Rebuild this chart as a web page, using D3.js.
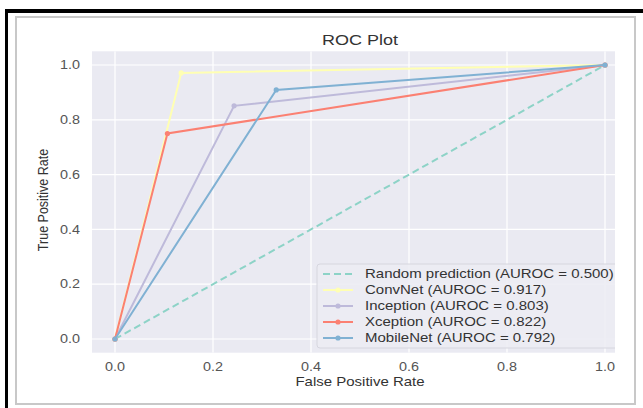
<!DOCTYPE html>
<html><head><meta charset="utf-8">
<script src="https://cdn.jsdelivr.net/npm/d3@7"></script>
<style>body{margin:0;background:#fff}svg{display:block}text{font-family:"Liberation Sans",Arial,sans-serif}</style>
</head><body>
<script>
const seriesNames = ["ConvNet","Inception","Xception","MobileNet"];
const aurocs = [0.917,0.803,0.822,0.792];
const fprValues = [[0,0.135,1],[0,0.243,1],[0,0.107,1],[0,0.329,1]];
const tprValues = [[0,0.971,1],[0,0.851,1],[0,0.75,1],[0,0.909,1]];
const randomFpr = [0,1];
const randomTpr = [0,1];
const randomAuroc = 0.5;
const tickValues = [0,0.2,0.4,0.6,0.8,1.0];
const colors = ["#8dd3c7","#ffffb3","#bebada","#fb8072","#80b1d3"];

(function(){
const W=643,H=408;
const svg=d3.select("body").append("svg").attr("width",W).attr("height",H);
// frame
svg.append("rect").attr("x",5).attr("y",9).attr("width",W-5).attr("height",4).attr("fill","#000");
svg.append("rect").attr("x",5).attr("y",9).attr("width",3).attr("height",H-9).attr("fill","#000");
svg.append("rect").attr("x",16).attr("y",17).attr("width",619).attr("height",387).attr("fill","#fff")
  .attr("stroke","#c8c8c8").attr("stroke-width",2);

const x=d3.scaleLinear().domain([0,1]).range([115,605]);
const y=d3.scaleLinear().domain([0,1]).range([339,65]);
const pL=x(-0.047), pR=615, pT=y(1.05), pB=y(-0.05);

svg.append("defs").append("clipPath").attr("id","pc").append("rect")
  .attr("x",pL).attr("y",pT).attr("width",pR-pL).attr("height",pB-pT);
svg.append("rect").attr("x",pL).attr("y",pT).attr("width",pR-pL).attr("height",pB-pT).attr("fill","#eaeaf2");
const g=svg.append("g").attr("clip-path","url(#pc)");
// grid
g.selectAll(".vg").data(tickValues).join("line").attr("x1",d=>x(d)).attr("x2",d=>x(d)).attr("y1",pT).attr("y2",pB)
 .attr("stroke","#fff").attr("stroke-width",1.2);
g.selectAll(".hg").data(tickValues).join("line").attr("y1",d=>y(d)).attr("y2",d=>y(d)).attr("x1",pL).attr("x2",pR)
 .attr("stroke","#fff").attr("stroke-width",1.2);

const sx=1.2;
function txt(px,py,str,opts){
  const t=svg.append("text").attr("transform",`translate(${px},${py}) scale(${sx},1)`+(opts.rot?" rotate(-90)":""))
   .attr("text-anchor",opts.anchor||"middle").attr("font-size",opts.size||12.5).attr("fill",opts.fill||"#555").text(str);
  if(opts.dy) t.attr("dy",opts.dy);
  return t;
}
// ticks
tickValues.forEach(v=>{
  txt(x(v),371,d3.format(".1f")(v),{anchor:"middle",size:12});
  txt(80,y(v),d3.format(".1f")(v),{anchor:"end",size:12,dy:"0.35em"});
});
txt(360,45,"ROC Plot",{size:15,fill:"#333"});
txt(360,386,"False Positive Rate",{size:12.5,fill:"#333"});
txt(48,200,"True Positive Rate",{size:12.5,fill:"#333",rot:true});

const line=d3.line().x(d=>x(d[0])).y(d=>y(d[1]));
// random
g.append("path").datum(randomFpr.map((f,i)=>[f,randomTpr[i]])).attr("d",line).attr("fill","none")
 .attr("stroke",colors[0]).attr("stroke-width",2).attr("stroke-dasharray","7,4");
seriesNames.forEach((n,i)=>{
  const pts=fprValues[i].map((f,j)=>[f,tprValues[i][j]]);
  g.append("path").datum(pts).attr("d",line).attr("fill","none").attr("stroke",colors[i+1]).attr("stroke-width",2);
  g.selectAll(null).data(pts).join("circle").attr("cx",d=>x(d[0])).attr("cy",d=>y(d[1])).attr("r",2.6).attr("fill",colors[i+1]);
});

// legend
const labels=[`Random prediction (AUROC = ${d3.format(".3f")(randomAuroc)})`].concat(seriesNames.map((n,i)=>`${n} (AUROC = ${d3.format(".3f")(aurocs[i])})`));
g.append("rect").attr("x",317).attr("y",264).attr("width",330).attr("height",84).attr("rx",3)
 .attr("fill","#ececf3").attr("fill-opacity",0.9).attr("stroke","#d6d6de").attr("stroke-width",1);
labels.forEach((l,i)=>{
  const ly=274+i*16;
  g.append("line").attr("x1",323).attr("x2",353).attr("y1",ly).attr("y2",ly).attr("stroke",colors[i]).attr("stroke-width",2)
   .attr("stroke-dasharray",i===0?"7,4":null);
  if(i>0) g.append("circle").attr("cx",338).attr("cy",ly).attr("r",2.6).attr("fill",colors[i]);
  g.append("text").attr("transform",`translate(365,${ly}) scale(${sx},1)`).attr("dy","0.35em").attr("font-size",12.5)
   .attr("fill","#333").text(l);
});
})();
</script>
</body></html>
